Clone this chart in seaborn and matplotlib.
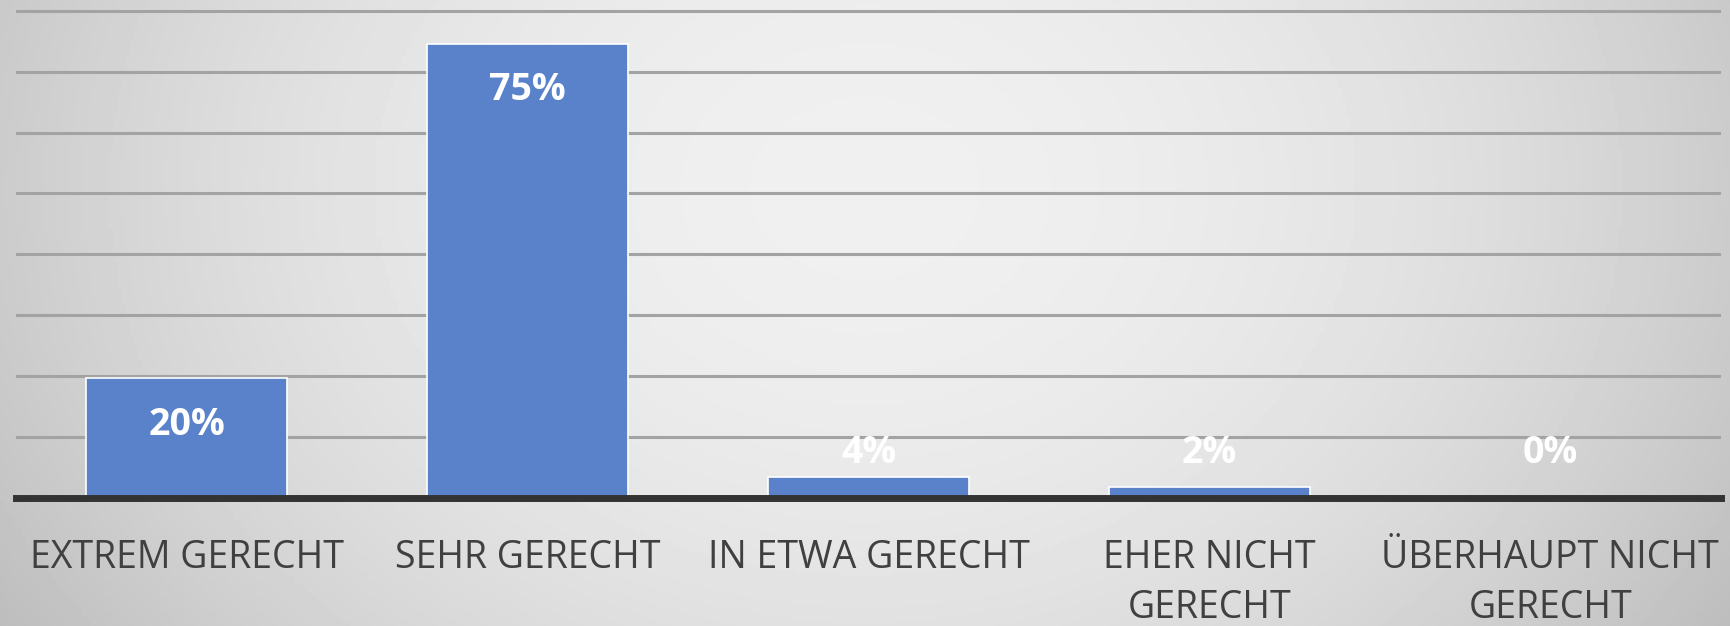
import numpy as np
import pandas as pd
import seaborn as sns
import matplotlib.pyplot as plt

# Data
categories = ["EXTREM GERECHT", "SEHR GERECHT", "IN ETWA GERECHT",
               "EHER NICHT\nGERECHT", "ÜBERHAUPT NICHT\nGERECHT"]
values = [19.6, 74.6, 3.4, 1.8, 0.0]
labels = ["20%", "75%", "4%", "2%", "0%"]

df = pd.DataFrame({"cat": categories, "val": values})

sns.set_style("white")
plt.rcParams["font.family"] = ["Open Sans", "DejaVu Sans"]

fig = plt.figure(figsize=(17.31, 6.26), dpi=100)

# background gradient
bg = fig.add_axes([0, 0, 1, 1], zorder=-1)
xx, yy = np.meshgrid(np.linspace(0, 1, 400), np.linspace(0, 1, 200))
r2 = ((xx - 0.5) / 0.55) ** 2 + ((yy - 0.3) / 1.2) ** 2
shade = np.clip(0.94 - 0.17 * r2, 0, 1)
bg.imshow(shade, cmap="gray", vmin=0, vmax=1, aspect="auto", extent=[0, 1, 1, 0])
bg.axis("off")

ax = fig.add_axes([0.0095, 0.205, 0.9845, 0.795])
ax.patch.set_alpha(0)

sns.barplot(data=df, x="cat", y="val", color="#5A82CB", width=0.59,
            edgecolor="white", linewidth=1.2, saturation=1, ax=ax, zorder=3)

ax.set_xlim(-0.5, 4.5)
ax.set_ylim(0, 81.8)
ax.set_yticks(np.arange(10, 81, 10))
ax.yaxis.grid(True, color="#A3A3A3", linewidth=2.2, zorder=1)
ax.set_axisbelow(True)
for s in ["top", "right", "left"]:
    ax.spines[s].set_visible(False)
ax.spines["bottom"].set_color("#333333")
ax.spines["bottom"].set_linewidth(5)
ax.spines["bottom"].set_zorder(5)

ax.set_xlabel("")
ax.set_ylabel("")
ax.tick_params(axis="y", left=False, labelleft=False)
ax.tick_params(axis="x", length=0, pad=30, labelsize=27, labelcolor="#404040")
for t in ax.get_xticklabels():
    t.set_linespacing(1.4)

# data labels
for i, (v, lab) in enumerate(zip(values, labels)):
    ax.text(i, max(v - 7.6, 7.3), lab, ha="center", va="center",
            color="white", fontsize=27, fontweight="bold", zorder=6)

fig.savefig("out.png", dpi=100)
